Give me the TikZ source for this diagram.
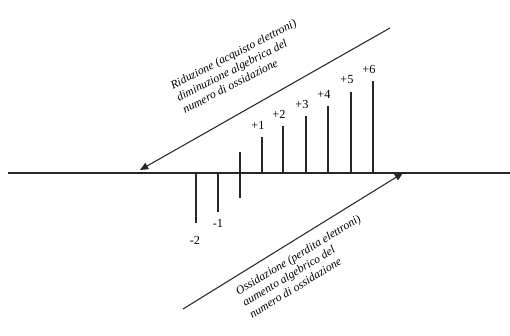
\documentclass[tikz,border=0pt]{standalone}
\usepackage{fontspec}
\setmainfont{Liberation Serif}
\usetikzlibrary{arrows.meta}

\begin{document}
\begin{tikzpicture}[
  x=0.03cm,y=-0.03cm,
  axis/.style={line width=1.2pt,black!85},
  bar/.style={line width=1.4pt,black!85},
  arr/.style={-{Triangle[length=7pt,width=6pt]},line width=0.9pt,black!85},
  lab/.style={font=\fontsize{10.5}{12}\selectfont,inner sep=0pt},
  note/.style={font=\fontsize{10}{11.5}\selectfont\itshape,align=left,inner sep=0pt}
]
  \useasboundingbox (0,0) rectangle (510,335);

  % axis
  \coordinate (axL) at (8,173);
  \coordinate (axR) at (510,173);
  \draw[axis] (axL) -- (axR);

  % bars above the axis
  \foreach \n/\x/\top in {1/262/137,2/283/126,3/306/116,4/328/106,5/351/92,6/373/81}{
    \draw[bar] (\x,173) -- (\x,\top);
    \node[lab] (p\n) at (\x-4,\top-12) {+\n};
  }
  % bar through the axis
  \draw[bar] (240,152) -- (240,198);
  % bars below the axis
  \draw[bar] (196,173) -- (196,223);
  \node[lab] (m2) at (195,240) {-2};
  \draw[bar] (218,173) -- (218,212);
  \node[lab] (m1) at (218,223) {-1};

  % reduction
  \coordinate (rTop) at (390,28);
  \coordinate (rTip) at (140,170);
  \draw[arr] (rTop) -- (rTip);
  \node[note,rotate=27,anchor=north west] (red) at (169,82)
    {Riduzione (acquisto elettroni)\\diminuzione algebrica del\\numero di ossidazione};

  % oxidation
  \coordinate (oBot) at (183,309);
  \coordinate (oTip) at (403,173);
  \draw[arr] (oBot) -- (oTip);
  \node[note,rotate=31,anchor=north west] (ox) at (234,288)
    {Ossidazione (perdita elettroni)\\aumento algebrico del\\numero di ossidazione};
\end{tikzpicture}
\end{document}
